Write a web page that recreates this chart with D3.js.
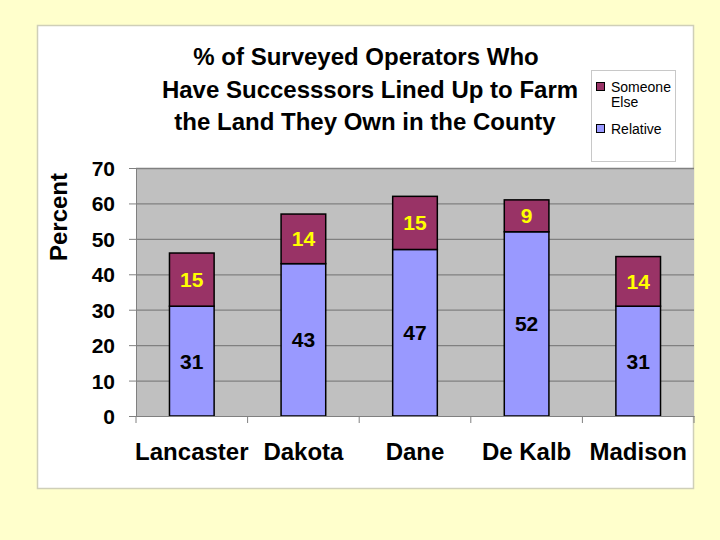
<!DOCTYPE html>
<html><head><meta charset="utf-8">
<script src="https://cdn.jsdelivr.net/npm/d3@7"></script>
<style>body{margin:0;background:#FFFFCC;}svg{display:block;}</style>
</head><body>
<svg id="c" width="720" height="540"></svg>
<script>
const categories = ["Lancaster", "Dakota", "Dane", "De Kalb", "Madison"];
const relative = [31, 43, 47, 52, 31];
const someoneElse = [15, 14, 15, 9, 14];
const seriesNames = ["Someone Else", "Relative"];
const yTicks = [0, 10, 20, 30, 40, 50, 60, 70];
const titleLines = ["% of Surveyed Operators Who", "Have Successsors Lined Up to Farm", "the Land They Own in the County"];

const svg = d3.select("#c");
const font = "Arial, 'Liberation Sans', sans-serif";
svg.append("rect").attr("width", 720).attr("height", 540).attr("fill", "#FFFFCC");
svg.append("rect").attr("x", 37.5).attr("y", 25.5).attr("width", 656).attr("height", 463)
  .attr("fill", "#fff").attr("stroke", "#cfcfb8").attr("stroke-width", 1.5);

const m = {left: 136, right: 694, top: 168, bottom: 416};
const x = d3.scaleBand().domain(categories).range([m.left, m.right]).paddingInner(0.6).paddingOuter(0.3);
const y = d3.scaleLinear().domain([0, 70]).range([m.bottom, m.top]);

svg.append("rect").attr("x", m.left).attr("y", m.top).attr("width", m.right - m.left).attr("height", m.bottom - m.top)
  .attr("fill", "#C0C0C0");
svg.append("line").attr("x1", m.left).attr("x2", m.right).attr("y1", m.top + 0.5).attr("y2", m.top + 0.5)
  .attr("stroke", "#808080").attr("stroke-width", 1.5);

const yAxis = d3.axisLeft(y).tickValues(yTicks).tickSize(m.right - m.left).tickSizeOuter(0);
const ya = svg.append("g").attr("transform", `translate(${m.right},0)`).call(yAxis);
ya.select(".domain").remove();
ya.selectAll(".tick line").attr("stroke", "#808080").attr("stroke-width", 1.2);
ya.selectAll(".tick text").remove();
const yl = svg.append("g").attr("transform", `translate(${m.left},0)`).call(d3.axisLeft(y).tickValues(yTicks).tickSize(7).tickSizeOuter(0).tickPadding(14));
yl.select(".domain").attr("stroke", "#808080");
yl.selectAll(".tick line").attr("stroke", "#808080");
yl.selectAll(".tick text").attr("font-family", font).attr("font-size", 21).attr("font-weight", "bold").attr("fill", "#000").attr("dy", "0.36em");

const rowsData = categories.map((c, i) => ({c, rel: relative[i], se: someoneElse[i]}));
const bw = x.bandwidth();
const g = svg.append("g");
rowsData.forEach(d => {
  g.append("rect").attr("x", x(d.c)).attr("y", y(d.rel)).attr("width", bw).attr("height", y(0) - y(d.rel))
    .attr("fill", "#9999FF").attr("stroke", "#000").attr("stroke-width", 1.5);
  g.append("rect").attr("x", x(d.c)).attr("y", y(d.rel + d.se)).attr("width", bw).attr("height", y(d.rel) - y(d.rel + d.se))
    .attr("fill", "#993366").attr("stroke", "#000").attr("stroke-width", 1.5);
  g.append("text").attr("x", x(d.c) + bw / 2).attr("y", y(d.rel / 2)).attr("dy", "0.36em")
    .attr("text-anchor", "middle").attr("font-family", font).attr("font-size", 21).attr("font-weight", "bold")
    .attr("fill", "#000").text(d.rel);
  g.append("text").attr("x", x(d.c) + bw / 2).attr("y", y(d.rel + d.se / 2)).attr("dy", "0.36em")
    .attr("text-anchor", "middle").attr("font-family", font).attr("font-size", 21).attr("font-weight", "bold")
    .attr("fill", "#FFFF00").text(d.se);
});

const xa = svg.append("g").attr("transform", `translate(0,${m.bottom})`)
  .call(d3.axisBottom(x).tickSize(0).tickPadding(27).tickSizeOuter(0));
xa.select(".domain").attr("stroke", "#808080");
xa.selectAll(".tick text").attr("font-family", font).attr("font-size", 24).attr("font-weight", "bold").attr("fill", "#000");
const step = x.step();
d3.range(categories.length + 1).forEach(i => {
  const xx = m.left + i * step;
  svg.append("line").attr("x1", xx).attr("x2", xx).attr("y1", m.bottom).attr("y2", m.bottom + 7).attr("stroke", "#808080");
});

svg.append("text").attr("transform", "translate(67,217) rotate(-90)").attr("text-anchor", "middle")
  .attr("font-family", font).attr("font-size", 24).attr("font-weight", "bold").text("Percent");

const tcx = [366, 370, 365];
titleLines.forEach((t, i) => {
  svg.append("text").attr("x", tcx[i]).attr("y", 65 + i * 32.5).attr("text-anchor", "middle")
    .attr("font-family", font).attr("font-size", 24).attr("font-weight", "bold").attr("fill", "#000").text(t);
});

const lg = svg.append("g");
lg.append("rect").attr("x", 591.5).attr("y", 70.5).attr("width", 84).attr("height", 91).attr("fill", "#fff").attr("stroke", "#c8c8c8");
const legColors = ["#993366", "#9999FF"];
const legY = [87, 129];
seriesNames.forEach((s, i) => {
  lg.append("rect").attr("x", 596.5).attr("y", legY[i] - 4.5).attr("width", 8).attr("height", 8)
    .attr("fill", legColors[i]).attr("stroke", "#000");
});
lg.append("text").attr("x", 611).attr("y", 92).attr("font-family", font).attr("font-size", 14).text("Someone");
lg.append("text").attr("x", 611).attr("y", 107).attr("font-family", font).attr("font-size", 14).text("Else");
lg.append("text").attr("x", 611).attr("y", 134).attr("font-family", font).attr("font-size", 14).text(seriesNames[1]);
</script>
</body></html>
